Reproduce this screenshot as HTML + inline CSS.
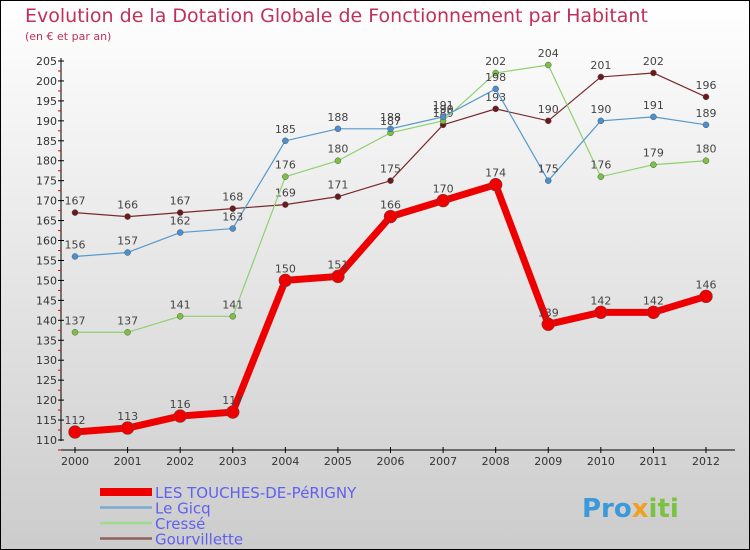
<!DOCTYPE html>
<html><head><meta charset="utf-8"><style>
body{margin:0;}
svg{display:block;font-family:"DejaVu Sans","Liberation Sans",sans-serif;}
</style></head><body>
<svg width="750" height="550" xmlns="http://www.w3.org/2000/svg">
<defs><linearGradient id="bg" x1="0" y1="0" x2="0" y2="1"><stop offset="0" stop-color="#ffffff"/><stop offset="1" stop-color="#cccccc"/></linearGradient></defs>
<rect x="0.5" y="0.5" width="749" height="549" fill="url(#bg)" stroke="#000"/>
<text x="25" y="22" font-size="19" fill="#c0305a">Evolution de la Dotation Globale de Fonctionnement par Habitant</text>
<text x="25" y="40" font-size="11" fill="#c0305a">(en € et par an)</text>
<g id="axes"></g><g id="series"></g><g id="legend"></g>
<text x="582" y="517" font-size="26" font-weight="bold" fill="#3a9ad9">Pro<tspan fill="#f0a020">x</tspan><tspan fill="#7cc242">iti</tspan></text>
</svg>
<script>
const years=[2000,2001,2002,2003,2004,2005,2006,2007,2008,2009,2010,2011,2012];
const touches=[112,113,116,117,150,151,166,170,174,139,142,142,146];
const gicq=[156,157,162,163,185,188,188,191,198,175,190,191,189];
const cresse=[137,137,141,141,176,180,187,190,202,204,176,179,180];
const gourv=[167,166,167,168,169,171,175,189,193,190,201,202,196];
const yTicks=[110,115,120,125,130,135,140,145,150,155,160,165,170,175,180,185,190,195,200,205];
const NS="http://www.w3.org/2000/svg";
const xs=i=>75+i*(706-75)/12;
const ys=v=>440-(v-110)*(440-61)/95;
function mk(t,a,p){const e=document.createElementNS(NS,t);for(const k in a)e.setAttribute(k,a[k]);p.appendChild(e);return e;}
const ax=document.getElementById('axes');
let yl=mk('line',{x1:61,y1:58,x2:61,y2:441,stroke:'#000'},ax);


let xl=mk('line',{x1:61,y1:450,x2:735,y2:450,stroke:'#000'},ax);


yTicks.forEach(v=>{const y=ys(v);mk('line',{x1:58,y1:y,x2:64,y2:y,stroke:'#000'},ax);
mk('line',{x1:58,y1:y+10,x2:61,y2:y+10,stroke:'#e00'},ax);
const t=mk('text',{x:57,y:y+4,'font-size':11,'text-anchor':'end',fill:'#333'},ax);t.textContent=v;

});
years.forEach((yr,i)=>{const x=xs(i);mk('line',{x1:x,y1:447,x2:x,y2:453,stroke:'#000'},ax);
const t=mk('text',{x:x,y:465,'font-size':11,'text-anchor':'middle',fill:'#333'},ax);t.textContent=yr;

});
const sg=document.getElementById('series');
function draw(arr,col,dot,w,r,name){
const g=mk('g',{},sg);


mk('polyline',{points:arr.map((v,i)=>xs(i)+','+ys(v)).join(' '),fill:'none',stroke:col,'stroke-width':w,'stroke-linejoin':'round'},g);
arr.forEach((v,i)=>{const c=mk('circle',{cx:xs(i),cy:ys(v),r:r,fill:dot,stroke:'#555','stroke-width':0.5},g);


const t=mk('text',{x:xs(i),y:ys(v)-8,'font-size':11,'text-anchor':'middle',fill:'#444'},g);t.textContent=v;

});}
draw(gourv,'#7a2a2a','#6a1a1a',1.2,3,'series-gourvillette');
draw(cresse,'#90d070','#7cc242',1.2,3,'series-cresse');
draw(gicq,'#5599cc','#4a90d0',1.2,3,'series-le-gicq');
draw(touches,'#ee0000','#ee0000',7,6.5,'series-les-touches');
const lg=document.getElementById('legend');
[['LES TOUCHES-DE-PéRIGNY','#ee0000',8],['Le Gicq','#7aaad0',2.5],['Cressé','#a0d890',2.5],['Gourvillette','#906060',2.5]].forEach((d,i)=>{
const y=492+i*15.5;const g=mk('g',{},lg);


mk('line',{x1:100,y1:y,x2:152,y2:y,stroke:d[1],'stroke-width':d[2]},g);
const t=mk('text',{x:155,y:y+6,'font-size':15,fill:'#6060ee'},g);t.textContent=d[0];});
</script>
</body></html>
